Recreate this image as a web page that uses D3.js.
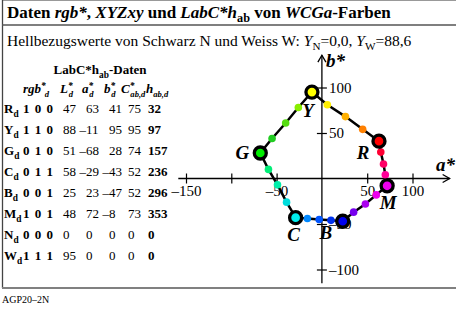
<!DOCTYPE html>
<html>
<head>
<meta charset="utf-8">
<script src="https://cdn.jsdelivr.net/npm/d3@7"></script>
<style>
body { margin: 0; background: #fff; }
svg { display: block; font-family: "Liberation Serif", "Times New Roman", serif; }
</style>
</head>
<body>
<script>
var width = 456, height = 313;

// table data
var rowNames = ["R", "Y", "G", "C", "B", "M", "N", "W"];
var rgbCodes = ["1 0 0", "1 1 0", "0 1 0", "0 1 1", "0 0 1", "1 0 1", "0 0 0", "1 1 1"];
var lValues = [47, 88, 51, 58, 25, 48, 0, 95];
var aValues = [63, -11, -68, -29, 23, 72, 0, 0];
var bValues = [41, 95, 28, -43, -47, -8, 0, 0];
var cValues = [75, 95, 74, 52, 52, 73, 0, 0];
var hValues = [32, 97, 157, 236, 296, 353, 0, 0];

// hue circle points: R -> Y -> G -> C -> B -> M
var pointA = [63, 45, 26, 6, -11, -26, -40, -55, -68, -59, -49, -39, -29, -16, -3, 10, 23, 35, 48, 60, 72, 70, 68, 65];
var pointB = [41, 54, 68, 81, 95, 78, 61, 44, 28, 10, -7, -26, -43, -44, -45, -46, -47, -37, -28, -18, -8, 4, 16, 29];
var pointColors = ["#ff0000", "#ff8000", "#ffb000", "#ffee00", "#ffff00", "#88ee00", "#55dd11", "#22cc22",
                   "#00ee00", "#00ee77", "#00eeaa", "#00dddd", "#00eeee", "#0088ff", "#0055ff", "#0033ee",
                   "#0000ee", "#7700ee", "#aa00ee", "#ee00ee", "#ee00ee", "#ff0099", "#ff0066", "#ff0033"];
var pointNames = ["R", "", "", "", "Y", "", "", "", "G", "", "", "", "C", "", "", "", "B", "", "", "", "M", "", "", ""];

// axis ticks
var aTicks = [-150, -100, -50, 50, 100];
var aTickLabels = ["\u2013150", "", "\u201350", "50", "100"];
var bTicks = [-100, -50, 50, 100];
var bTickLabels = ["\u2013100", "\u201350", "50", "100"];

var svg = d3.select("body").append("svg")
    .attr("width", width)
    .attr("height", height);

// rich text helper: parts {t, i, sub, sup, dx, x, fs}
function rich(sel, parts) {
  var shift = 0;
  parts.forEach(function(p) {
    var want = p.sub ? p.sub : (p.sup ? p.sup : 0);
    var ts = sel.append("tspan").text(p.t);
    if (p.x != null) ts.attr("x", p.x);
    if (want !== shift) ts.attr("dy", want - shift);
    if (p.dx) ts.attr("dx", p.dx);
    shift = want;
    if (p.i) ts.style("font-style", "italic");
    if (p.sub || p.sup) ts.style("font-size", p.fs || "0.72em");
  });
  return sel;
}

function num(v) { return v < 0 ? "\u2013" + (-v) : "" + v; }

// frame
svg.append("line").attr("x1", 2).attr("x2", width).attr("y1", 0.5).attr("y2", 0.5)
    .attr("stroke", "#999").attr("stroke-width", 1);
svg.append("line").attr("x1", 2.5).attr("x2", 2.5).attr("y1", 0).attr("y2", 288)
    .attr("stroke", "#444").attr("stroke-width", 1.3);
svg.append("line").attr("x1", 2).attr("x2", width).attr("y1", 25).attr("y2", 25)
    .attr("stroke", "#555").attr("stroke-width", 1.5);
svg.append("line").attr("x1", 2).attr("x2", width).attr("y1", 288).attr("y2", 288)
    .attr("stroke", "#808080").attr("stroke-width", 2);

rich(svg.append("text").attr("x", 7).attr("y", 18).style("font-size", "17px").style("font-weight", "bold"), [
  {t: "Daten "}, {t: "rgb*", i: 1}, {t: ", "}, {t: "XYZxy", i: 1}, {t: " und "},
  {t: "LabC*h", i: 1}, {t: "ab", sub: 4}, {t: " von "}, {t: "WCGa", i: 1}, {t: "-Farben"}
]);

rich(svg.append("text").attr("x", 7).attr("y", 46).style("font-size", "15.5px"), [
  {t: "Hellbezugswerte von Schwarz N und Weiss W: "}, {t: "Y", i: 1}, {t: "N", sub: 4},
  {t: "=0,0, "}, {t: "Y", i: 1}, {t: "W", sub: 4}, {t: "=88,6"}
]);

svg.append("text").attr("x", 2).attr("y", 303).style("font-size", "10px").text("AGP20\u20132N");

// table
var table = svg.append("g").style("font-size", "13px");
rich(table.append("text").attr("x", 100).attr("y", 74).attr("text-anchor", "middle").style("font-weight", "bold"),
  [{t: "LabC*h"}, {t: "ab", sub: 4}, {t: "-Daten"}]);

// column heads as one text line, each head placed at its own x
var headX = [23, 60, 82, 104, 121, 146];
var heads = [["rgb", "d", -1], ["L", "d", -4], ["a", "d", -4], ["b", "d", -4], ["C", "ab,d", -4], ["h", "ab,d", 0]];
var headParts = [];
heads.forEach(function(h, i) {
  headParts.push({t: h[0], i: 1, x: headX[i]});
  if (h[0] !== "h") headParts.push({t: "*", i: 1, sup: -4});
  headParts.push({t: h[1], i: 1, sub: 4, dx: h[2], fs: "0.66em"});
});
rich(table.append("text").attr("x", headX[0]).attr("y", 93).style("font-weight", "bold"), headParts);

var rowY = d3.scalePoint().domain(rowNames).range([113, 260]);
var colX = [63, 86, 109, 128, 148];
var dashW = 6.5;

rowNames.forEach(function(n, i) {
  var yy = rowY(n);
  rich(table.append("text").attr("x", 4).attr("y", yy).style("font-weight", "bold"),
    [{t: n}, {t: "d", sub: 4}]);
  table.append("text").attr("x", 23).attr("y", yy).style("font-weight", "bold")
      .style("letter-spacing", "1px").text(rgbCodes[i]);
  [lValues[i], aValues[i], bValues[i], cValues[i], hValues[i]].forEach(function(v, j) {
    table.append("text")
        .attr("x", colX[j] - (v < 0 ? dashW : 0))
        .attr("y", yy)
        .style("font-weight", j === 4 ? "bold" : null)
        .text(num(v));
  });
});

// plot
var x = d3.scaleLinear().domain([-150, 100]).range([186, 412.5]);
var y = d3.scaleLinear().domain([-100, 100]).range([269.5, 87.5]);
var aExtent = [-158.5, 141], bExtent = [-115, 135.5];

var plot = svg.append("g");

plot.append("line").attr("x1", x(aExtent[0])).attr("x2", x(aExtent[1]))
    .attr("y1", y(0)).attr("y2", y(0)).attr("stroke", "#000").attr("stroke-width", 1.3);
plot.append("line").attr("x1", x(0)).attr("x2", x(0))
    .attr("y1", y(bExtent[0])).attr("y2", y(bExtent[1])).attr("stroke", "#000").attr("stroke-width", 1.3);

// arrow heads
plot.append("path")
    .attr("d", "M" + (x(aExtent[1]) - 7) + "," + (y(0) - 4) + "L" + x(aExtent[1]) + "," + y(0) + "L" + (x(aExtent[1]) - 7) + "," + (y(0) + 4))
    .attr("fill", "none").attr("stroke", "#000").attr("stroke-width", 1.3);
plot.append("path")
    .attr("d", "M" + (x(0) - 4) + "," + (y(bExtent[1]) + 7) + "L" + x(0) + "," + y(bExtent[1]) + "L" + (x(0) + 4) + "," + (y(bExtent[1]) + 7))
    .attr("fill", "none").attr("stroke", "#000").attr("stroke-width", 1.3);

function styleAxis(g) {
  g.select(".domain").remove();
  g.selectAll("line").attr("stroke", "#000").attr("stroke-width", 1.2);
  g.attr("font-family", null).attr("font-size", null);
  g.selectAll("text").style("font-size", "15px").attr("fill", "#000");
}

plot.append("g")
    .attr("transform", "translate(0," + y(0) + ")")
    .call(d3.axisBottom(x).tickValues(aTicks).tickSize(5).tickPadding(2)
      .tickFormat(function(d, i) { return aTickLabels[i]; }))
    .call(styleAxis);
plot.append("g")
    .attr("transform", "translate(0," + y(0) + ")")
    .call(d3.axisTop(x).tickValues(aTicks).tickSize(5).tickFormat(""))
    .call(styleAxis);
plot.append("g")
    .attr("transform", "translate(" + x(0) + ",0)")
    .call(d3.axisRight(y).tickValues(bTicks).tickSize(5).tickPadding(2)
      .tickFormat(function(d, i) { return bTickLabels[i]; }))
    .call(styleAxis);
plot.append("g")
    .attr("transform", "translate(" + x(0) + ",0)")
    .call(d3.axisLeft(y).tickValues(bTicks).tickSize(5).tickFormat(""))
    .call(styleAxis);

plot.append("text").attr("x", 436).attr("y", 171)
    .style("font-size", "19px").style("font-weight", "bold").style("font-style", "italic").text("a*");
plot.append("text").attr("x", 326).attr("y", 67)
    .style("font-size", "19px").style("font-weight", "bold").style("font-style", "italic").text("b*");

// hue line and dots
var pts = pointA.map(function(a, i) {
  return {a: a, b: pointB[i], color: pointColors[i], name: pointNames[i]};
});

var line = d3.line()
    .x(function(d) { return x(d.a); })
    .y(function(d) { return y(d.b); })
    .curve(d3.curveLinearClosed);

plot.append("path").datum(pts).attr("d", line)
    .attr("fill", "none").attr("stroke", "#000").attr("stroke-width", 2.5);

plot.selectAll(".dot").data(pts.filter(function(d) { return !d.name; }))
  .enter().append("circle")
    .attr("cx", function(d) { return x(d.a); })
    .attr("cy", function(d) { return y(d.b); })
    .attr("r", 3.8)
    .attr("fill", function(d) { return d.color; });

var prim = pts.filter(function(d) { return d.name; });
plot.selectAll(".big").data(prim)
  .enter().append("circle")
    .attr("cx", function(d) { return x(d.a); })
    .attr("cy", function(d) { return y(d.b); })
    .attr("r", 6)
    .attr("fill", function(d) { return d.color; })
    .attr("stroke", "#000").attr("stroke-width", 3.3);

// label offsets from each primary point
var labelOffset = {R: [-16, 11], Y: [-4, 18], G: [-18, -1], C: [-2, 17], B: [-17, 11], M: [1, 17]};
plot.selectAll(".lab").data(prim)
  .enter().append("text")
    .attr("x", function(d) { return x(d.a) + labelOffset[d.name][0]; })
    .attr("y", function(d) { return y(d.b) + labelOffset[d.name][1]; })
    .attr("dy", "0.35em")
    .attr("text-anchor", "middle")
    .style("font-size", "19px").style("font-weight", "bold").style("font-style", "italic")
    .text(function(d) { return d.name; });
</script>
</body>
</html>
